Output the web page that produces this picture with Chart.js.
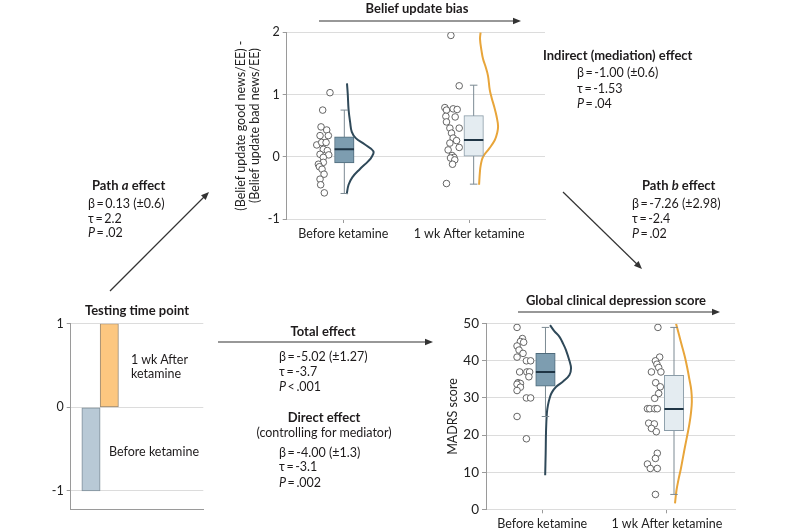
<!DOCTYPE html>
<html><head><meta charset="utf-8">
<script src="https://cdn.jsdelivr.net/npm/chart.js@4.4.1/dist/chart.umd.min.js"></script>
<style>
html,body{margin:0;padding:0;background:#fff;}
#wrap{position:relative;width:800px;height:530px;overflow:hidden;font-family:Lato,sans-serif;color:#1e1b1c;}
canvas{position:absolute;}
.t{position:absolute;white-space:nowrap;font-size:12.5px;line-height:1;transform:translateY(-50%);}
.c{transform:translate(-50%,-50%);}
.b{font-weight:bold;font-size:13px;}
</style></head>
<body><div id="wrap">
<canvas id="arrows" width="800" height="530" style="left:0;top:0"></canvas>
<canvas id="cBias" width="325" height="230" style="left:225px;top:20px"></canvas>
<canvas id="cTime" width="185" height="220" style="left:30px;top:300px"></canvas>
<canvas id="cMadrs" width="300" height="230" style="left:440px;top:300px"></canvas>

<div class="t b c" style="left:417px;top:8px">Belief update bias</div>
<div class="t b" style="left:543px;top:55px">Indirect (mediation) effect</div>
<div class="t" style="left:577px;top:73px">β&thinsp;=&thinsp;-1.00 (±0.6)</div>
<div class="t" style="left:577px;top:89px">τ&thinsp;=&thinsp;-1.53</div>
<div class="t" style="left:577px;top:104px"><i>P</i>&thinsp;=&thinsp;.04</div>

<div class="t b" style="left:92px;top:185px">Path <i>a</i> effect</div>
<div class="t" style="left:88px;top:204px">β&thinsp;=&thinsp;0.13 (±0.6)</div>
<div class="t" style="left:88px;top:219px">τ&thinsp;=&thinsp;2.2</div>
<div class="t" style="left:88px;top:233px"><i>P</i>&thinsp;=&thinsp;.02</div>

<div class="t b" style="left:642px;top:185px">Path <i>b</i> effect</div>
<div class="t" style="left:632px;top:204px">β&thinsp;=&thinsp;-7.26 (±2.98)</div>
<div class="t" style="left:632px;top:219px">τ&thinsp;=&thinsp;-2.4</div>
<div class="t" style="left:632px;top:234px"><i>P</i>&thinsp;=&thinsp;.02</div>

<div class="t b c" style="left:137px;top:310px">Testing time point</div>
<div class="t" style="left:131px;top:360px">1 wk After</div>
<div class="t" style="left:131px;top:374px">ketamine</div>
<div class="t" style="left:109px;top:452px">Before ketamine</div>

<div class="t b c" style="left:323px;top:331px">Total effect</div>
<div class="t" style="left:279px;top:357px">β&thinsp;=&thinsp;-5.02 (±1.27)</div>
<div class="t" style="left:279px;top:372px">τ&thinsp;=&thinsp;-3.7</div>
<div class="t" style="left:279px;top:387px"><i>P</i>&thinsp;&lt;&thinsp;.001</div>
<div class="t b c" style="left:324px;top:417px">Direct effect</div>
<div class="t c" style="left:324px;top:433px">(controlling for mediator)</div>
<div class="t" style="left:279px;top:453px">β&thinsp;=&thinsp;-4.00 (±1.3)</div>
<div class="t" style="left:279px;top:467px">τ&thinsp;=&thinsp;-3.1</div>
<div class="t" style="left:279px;top:483px"><i>P</i>&thinsp;=&thinsp;.002</div>

<div class="t b c" style="left:616px;top:300px">Global clinical depression score</div>
</div>
<script>
// ---------------- DATA ----------------
const categories = ['Before ketamine', '1 wk After ketamine'];

// Belief update bias (good news/EE - bad news/EE), individual participants
const biasBefore = [1.03,0.75,0.48,0.43,0.34,0.34,0.19,0.23,0.23,0.12,0.10,0.04,0.03,-0.01,-0.09,-0.12,-0.16,-0.20,-0.28,-0.36,-0.45,-0.58];
const biasBeforeJitter = [-0.106,-0.164,-0.177,-0.132,-0.185,-0.119,-0.211,-0.172,-0.137,-0.159,-0.127,-0.185,-0.116,-0.159,-0.159,-0.198,-0.190,-0.169,-0.153,-0.185,-0.180,-0.151];
const biasAfter = [1.95,1.14,0.79,0.75,0.77,0.76,0.65,0.64,0.56,0.46,0.46,0.38,0.30,0.26,0.22,0.15,0.11,0.02,-0.01,-0.02,-0.05,-0.12,-0.43];
const biasAfterJitter = [-0.145,-0.079,-0.193,-0.180,-0.127,-0.095,-0.185,-0.111,-0.180,-0.153,-0.079,-0.140,-0.127,-0.100,-0.153,-0.079,-0.167,-0.135,-0.121,-0.148,-0.114,-0.132,-0.180];
// box stats: [lower whisker, Q1, median, Q3, upper whisker]
const biasBoxBefore = [-0.59, -0.10, 0.12, 0.32, 0.75];
const biasBoxAfter  = [-0.44, 0.00, 0.27, 0.66, 1.15];
// density curves (relative density at each value)
const biasDensBeforeY = [1.18,1.0,0.76,0.55,0.4,0.3,0.2,0.09,0.0,-0.07,-0.2,-0.33,-0.45,-0.6];
const biasDensBefore  = [0.01,0.04,0.07,0.13,0.19,0.34,0.67,1.0,0.94,0.81,0.49,0.21,0.07,0.0];
const biasDensAfterY  = [2.0,1.89,1.7,1.57,1.45,1.3,1.08,0.95,0.81,0.65,0.49,0.38,0.27,0.13,0.0,-0.13,-0.26,-0.45];
const biasDensAfter   = [0.08,0.05,0.13,0.21,0.34,0.47,0.56,0.66,0.79,0.92,1.0,0.95,0.83,0.53,0.21,0.09,0.04,0.0];
const biasTicks = [-1, 0, 1, 2];

// MADRS score
const madrsBefore = [49,46,45.2,45,44,42.9,42,41,40,40,37,37,37,35.7,34.1,33.9,33.7,32.9,32,30,30,25,19];
const madrsBeforeJitter = [-0.202,-0.159,-0.175,-0.149,-0.202,-0.186,-0.154,-0.202,-0.127,-0.093,-0.181,-0.123,-0.101,-0.107,-0.194,-0.175,-0.202,-0.175,-0.202,-0.127,-0.093,-0.202,-0.127];
const madrsAfter = [49,41,40,39.1,38.2,37,37,34.1,33,31.2,29.9,27.1,27.1,27.1,27.1,23.2,23,21.8,20.9,15.1,13.7,12.2,11,11,4];
const madrsAfterJitter = [-0.072,-0.058,-0.092,-0.080,-0.066,-0.124,-0.048,-0.090,-0.053,-0.066,-0.098,-0.156,-0.138,-0.098,-0.077,-0.146,-0.101,-0.124,-0.085,-0.077,-0.092,-0.156,-0.133,-0.077,-0.092];
const madrsBoxBefore = [25, 33.2, 37, 42, 49];
const madrsBoxAfter  = [4, 21.2, 27, 36.1, 49];
const madrsDensBeforeY = [49.6,48,46.5,44.5,42.9,40,38,36.2,34.5,33,31.5,30.3,28,25.9,21.4,15,9.2];
const madrsDensBefore  = [0.21,0.37,0.56,0.71,0.81,0.94,1.0,0.94,0.71,0.44,0.28,0.21,0.13,0.09,0.06,0.045,0.026];
const madrsDensAfterY  = [50,47,44,41,38,35,32,29,26,23,20,17,14,11,8,5,1.6];
const madrsDensAfter   = [0.09,0.26,0.43,0.6,0.74,0.86,0.97,1.0,0.95,0.86,0.74,0.61,0.49,0.37,0.23,0.11,0.03];
const madrsTicks = [0, 10, 20, 30, 40, 50];

// Testing time point coding
const timeCodes = [-1, 1];
const timeTicks = [-1, 0, 1];

// ---------------- LAYOUT / STYLE ----------------
const FONT = 'Lato';
Chart.defaults.font.family = FONT;
Chart.defaults.color = '#222';
const GRID = '#dcdcdc', AXIS = '#9a9a9a';
const LAY = {
  biasBoxOff: [0.008, 0.036], biasCurveBase: [0.027, 0.079], biasCurveW: [0.212, 0.151],
  madrsBoxOff: [0.026, 0.057], madrsCurveBase: [0.018, 0.061], madrsCurveW: [0.213, 0.139],
  boxPx: 19.5, medHalf: 0.077, capHalf: 0.03, timeBarX: [0.153, 0.291]
};
const STY = [
  {box:'#7d9db0', boxBorder:'#4f6b7b', curve:'#2f4959'},
  {box:'#e4ecf1', boxBorder:'#8a9ca8', curve:'#e8a53a'}
];

function raincloud(cat, vals, jit, box, densY, dens, boxOff, curveBase, curveW) {
  const s = STY[cat];
  const bx = cat + boxOff;
  const [lo, q1, med, q3, hi] = box;
  return [
    {type:'line', order:5, data: densY.map((y,i)=>({x: cat + curveBase + dens[i]*curveW, y})),
     borderColor:s.curve, borderWidth:2, pointRadius:0, tension:0.4, fill:false},
    {type:'line', order:4, data:[
        {x:bx-LAY.capHalf,y:lo},{x:bx+LAY.capHalf,y:lo},{x:bx,y:null},
        {x:bx,y:lo},{x:bx,y:hi},{x:bx,y:null},
        {x:bx-LAY.capHalf,y:hi},{x:bx+LAY.capHalf,y:hi}],
     borderColor:'#7c8a93', borderWidth:1, pointRadius:0, spanGaps:false, tension:0},
    {type:'bar', order:3, data:[{x:bx, y:[q1,q3]}], backgroundColor:s.box, borderColor:s.boxBorder,
     borderWidth:1, borderSkipped:false, barThickness:LAY.boxPx, grouped:false},
    {type:'line', order:2, data:[{x:bx-LAY.medHalf,y:med},{x:bx+LAY.medHalf,y:med}],
     borderColor:'#1f3545', borderWidth:2, pointRadius:0},
    {type:'scatter', order:1, data: vals.map((v,i)=>({x: cat + jit[i], y: v})),
     pointRadius:3.3, pointBackgroundColor:'#fff', pointBorderColor:'#555', pointBorderWidth:0.9, showLine:false}
  ];
}

function catAxis(min, max, h, size) {
  return {type:'linear', min, max, offset:false,
    afterBuildTicks: s => { s.ticks = [{value:0},{value:1}]; },
    ticks:{callback:(v,i)=>categories[i], autoSkip:false, maxRotation:0, minRotation:0, padding:3, color:'#222', font:{size}},
    grid:{drawOnChartArea:false, tickLength:4, tickColor:AXIS, offset:false},
    border:{color:GRID},
    afterFit: s => { s.height = h; }};
}
function valAxis(min, max, ticks, w, size, title) {
  return {min, max,
    afterBuildTicks: s => { s.ticks = ticks.map(v=>({value:v})); },
    ticks:{padding:3, color:'#222', font:{size}},
    grid:{color:GRID, tickLength:4, tickColor:AXIS},
    border:{color:AXIS},
    title: title || {display:false},
    afterFit: s => { s.width = w; }};
}
const common = {responsive:false, animation:false, devicePixelRatio:1,
  plugins:{legend:{display:false}, tooltip:{enabled:false}}};

// Top: belief update bias
new Chart(document.getElementById('cBias'), {
  type:'scatter',
  data:{datasets:[
    ...raincloud(0, biasBefore, biasBeforeJitter, biasBoxBefore, biasDensBeforeY, biasDensBefore, LAY.biasBoxOff[0], LAY.biasCurveBase[0], LAY.biasCurveW[0]),
    ...raincloud(1, biasAfter, biasAfterJitter, biasBoxAfter, biasDensAfterY, biasDensAfter, LAY.biasBoxOff[1], LAY.biasCurveBase[1], LAY.biasCurveW[1])
  ]},
  options:{...common,
    layout:{padding:{top:12.3, right:5, left:0, bottom:0}},
    scales:{
      x: catAxis(-0.45, 1.603, 31, 12.5),
      y: valAxis(-1, 2, biasTicks, 61.7, 12.5, {display:true, text:['(Belief update good news/EE) -','(Belief update bad news/EE)'],
          color:'#222', font:{size:12.5, lineHeight:1.08}, padding:{top:9.5, bottom:0}})
    }}
});

// Bottom right: MADRS
new Chart(document.getElementById('cMadrs'), {
  type:'scatter',
  data:{datasets:[
    ...raincloud(0, madrsBefore, madrsBeforeJitter, madrsBoxBefore, madrsDensBeforeY, madrsDensBefore, LAY.madrsBoxOff[0], LAY.madrsCurveBase[0], LAY.madrsCurveW[0]),
    ...raincloud(1, madrsAfter, madrsAfterJitter, madrsBoxAfter, madrsDensAfterY, madrsDensAfter, LAY.madrsBoxOff[1], LAY.madrsCurveBase[1], LAY.madrsCurveW[1])
  ]},
  options:{...common,
    layout:{padding:{top:23.7, right:3, left:0, bottom:0}},
    scales:{
      x: catAxis(-0.451, 1.547, 20.7, 12.5),
      y: valAxis(0, 50, madrsTicks, 46, 13.5, {display:true, text:'MADRS score', color:'#222',
          font:{size:12.5, lineHeight:1.12}, padding:{top:6, bottom:0}})
    }}
});

// Bottom left: testing time point
new Chart(document.getElementById('cTime'), {
  type:'bar',
  data:{datasets:[
    {data:[{x:LAY.timeBarX[0], y:[0, timeCodes[0]]}], backgroundColor:'#b8c9d6', borderColor:'#7f8e99',
     borderWidth:1, borderSkipped:false, barThickness:18.3, grouped:false},
    {data:[{x:LAY.timeBarX[1], y:[0, timeCodes[1]]}], backgroundColor:'#fcc780', borderColor:'#9b8a74',
     borderWidth:1, borderSkipped:false, barThickness:18.3, grouped:false}
  ]},
  options:{...common,
    layout:{padding:{top:23.7, right:11.7, left:0, bottom:0}},
    scales:{
      x:{type:'linear', min:0, max:1, offset:false, ticks:{display:false}, grid:{display:false, offset:false},
         border:{display:true, color:AXIS}, afterFit: s => { s.height = 10.7; }},
      y: valAxis(-1.22, 1, timeTicks, 40.7, 12.5)
    }}
});

// Diagram arrows
(function(){
  const ctx = document.getElementById('arrows').getContext('2d');
  ctx.strokeStyle = '#333'; ctx.fillStyle = '#333'; ctx.lineWidth = 1.2;
  function arrow(x1,y1,x2,y2){
    const a = Math.atan2(y2-y1, x2-x1), L = 8, W = 3.3;
    ctx.beginPath(); ctx.moveTo(x1,y1); ctx.lineTo(x2-5*Math.cos(a), y2-5*Math.sin(a)); ctx.stroke();
    ctx.beginPath(); ctx.moveTo(x2,y2);
    ctx.lineTo(x2-L*Math.cos(a)+W*Math.sin(a), y2-L*Math.sin(a)-W*Math.cos(a));
    ctx.lineTo(x2-L*Math.cos(a)-W*Math.sin(a), y2-L*Math.sin(a)+W*Math.cos(a));
    ctx.closePath(); ctx.fill();
  }
  arrow(319,21,521,21);
  arrow(110,291,209,192);
  arrow(563,192,642,269);
  arrow(218,342,433,342);
  arrow(518,312,720,312);
})();
</script>
</body></html>
